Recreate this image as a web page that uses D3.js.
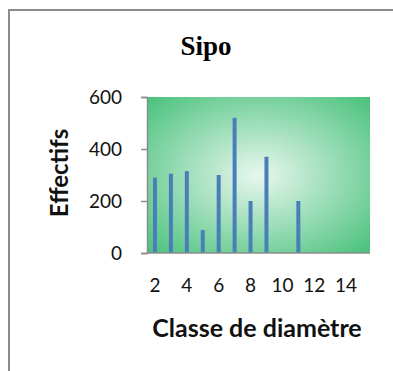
<!DOCTYPE html>
<html>
<head>
<meta charset="utf-8">
<script src="https://cdn.jsdelivr.net/npm/d3@7"></script>
<style>
  body { margin: 0; background: #fff; }
  svg { display: block; }
</style>
</head>
<body>
<div id="chart"></div>
<script>
// classes de diamètre et effectifs
var classes = [2, 3, 4, 5, 6, 7, 8, 9, 10, 11, 12, 13, 14, 15];
var effectifs = [290, 305, 315, 88, 300, 520, 200, 370, 0, 200, 0, 0, 0, 0];
var yTicks = [0, 200, 400, 600];
var xLabels = [2, 4, 6, 8, 10, 12, 14];

var width = 393,
    height = 371;
var plot = { left: 147, right: 370, top: 97, bottom: 253 };

var svg = d3.select("#chart")
  .append("svg")
    .attr("width", width)
    .attr("height", height);

// cadre du graphique
svg.append("rect")
  .attr("x", 9)
  .attr("y", 10)
  .attr("width", 420)
  .attr("height", 400)
  .attr("fill", "none")
  .attr("stroke", "#8c8c8c")
  .attr("stroke-width", 2);

// dégradé radial de la zone de tracé
var grad = svg.append("defs")
  .append("radialGradient")
    .attr("id", "fond")
    .attr("cx", "50%")
    .attr("cy", "50%")
    .attr("r", "72%");
grad.append("stop").attr("offset", "0%").attr("stop-color", "#e8f7ef");
grad.append("stop").attr("offset", "100%").attr("stop-color", "#45c078");

var x = d3.scaleBand()
  .domain(classes)
  .range([plot.left, plot.right])
  .paddingInner(0.75)
  .paddingOuter(0.375);

var y = d3.scaleLinear()
  .domain([0, 600])
  .range([plot.bottom, plot.top]);

svg.append("rect")
  .attr("x", plot.left)
  .attr("y", plot.top)
  .attr("width", plot.right - plot.left)
  .attr("height", plot.bottom - plot.top)
  .attr("fill", "url(#fond)");

// barres
svg.selectAll("rect.barre")
  .data(classes)
  .enter()
    .append("rect")
    .attr("class", "barre")
    .attr("x", function(d) { return x(d); })
    .attr("width", x.bandwidth())
    .attr("y", function(d, i) { return y(effectifs[i]); })
    .attr("height", function(d, i) { return plot.bottom - y(effectifs[i]); })
    .attr("fill", "#4a7ebb");

// axe Y
var yAxis = svg.append("g")
  .attr("transform", "translate(" + plot.left + ",0)")
  .call(d3.axisLeft(y).tickValues(yTicks).tickSize(6).tickPadding(19));
yAxis.select(".domain").attr("stroke", "#8c8c8c").attr("stroke-width", 1.5);
yAxis.selectAll(".tick line").attr("stroke", "#8c8c8c").attr("stroke-width", 1.5);
yAxis.selectAll("text")
  .attr("font-family", "Lato, sans-serif")
  .attr("font-size", 19)
  .attr("fill", "#111");

// axe X
var xAxis = svg.append("g")
  .attr("transform", "translate(0," + plot.bottom + ")")
  .call(d3.axisBottom(x).tickValues(xLabels).tickSize(0).tickSizeOuter(0).tickPadding(26));
xAxis.select(".domain").attr("stroke", "#8c8c8c").attr("stroke-width", 1.5)
  .attr("d", "M" + plot.left + ",0H" + plot.right);
xAxis.selectAll("text")
  .attr("font-family", "Lato, sans-serif")
  .attr("font-size", 19)
  .attr("fill", "#111");

// titres
svg.append("text")
  .attr("x", 206)
  .attr("y", 55)
  .attr("text-anchor", "middle")
  .attr("font-family", "'Liberation Serif', serif")
  .attr("font-weight", "bold")
  .attr("font-size", 27)
  .text("Sipo");

svg.append("text")
  .attr("x", 257)
  .attr("y", 337)
  .attr("text-anchor", "middle")
  .attr("font-family", "Lato, sans-serif")
  .attr("font-weight", "bold")
  .attr("font-size", 25)
  .attr("fill", "#111")
  .text("Classe de diamètre");

svg.append("text")
  .attr("transform", "translate(68," + ((plot.top + plot.bottom) / 2 - 2) + ") rotate(-90)")
  .attr("text-anchor", "middle")
  .attr("font-family", "Lato, sans-serif")
  .attr("font-weight", "bold")
  .attr("font-size", 24)
  .attr("fill", "#111")
  .text("Effectifs");
</script>
</body>
</html>
